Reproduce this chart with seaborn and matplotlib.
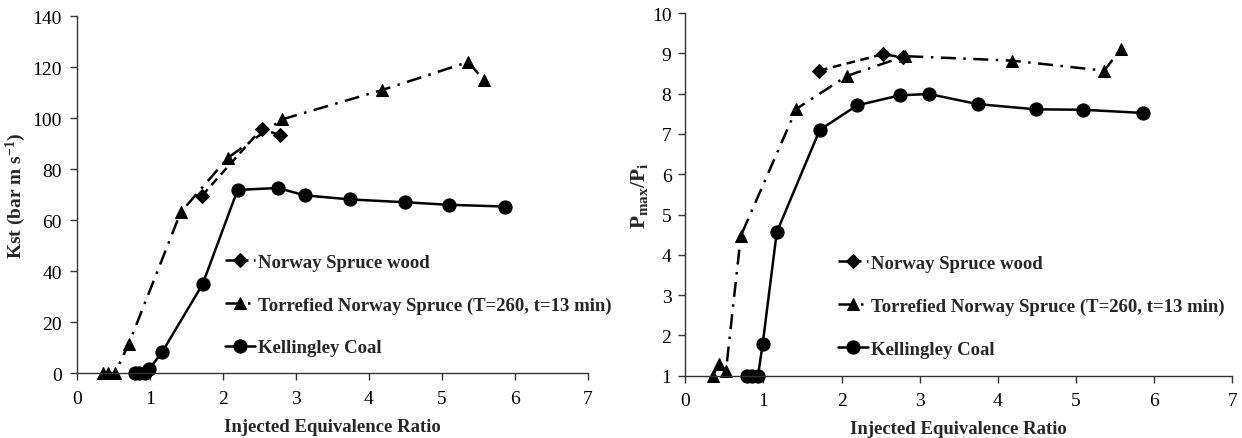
import matplotlib
matplotlib.use("Agg")
import matplotlib.pyplot as plt
import seaborn as sns
import pandas as pd

# ---------------- data ----------------
spruce_x = [1.71, 2.53, 2.78]
spruce_kst = [69.5, 95.8, 93.3]
spruce_p = [8.57, 8.98, 8.90]

torr_x = [0.35, 0.43, 0.52, 0.71, 1.42, 2.07, 2.81, 4.18, 5.36, 5.57]
torr_kst = [0, 0, 0, 11.5, 63, 84.5, 99.5, 111, 122, 115]
torr_p = [1.0, 1.29, 1.12, 4.47, 7.62, 8.44, 8.93, 8.82, 8.57, 9.10]

coal_x = [0.79, 0.85, 0.93, 0.99, 1.17, 1.72, 2.20, 2.75, 3.12, 3.74, 4.49, 5.09, 5.86]
coal_kst = [0, 0, 0, 1.5, 8.4, 34.8, 71.8, 72.6, 69.7, 68.1, 67.0, 66.0, 65.3]
coal_p = [1.0, 1.0, 1.0, 1.79, 4.56, 7.10, 7.71, 7.96, 7.99, 7.74, 7.61, 7.60, 7.52]

labels = ["Norway Spruce wood",
          "Torrefied Norway Spruce (T=260, t=13 min)",
          "Kellingley Coal"]
x_ticks = [0, 1, 2, 3, 4, 5, 6, 7]
kst_ticks = [0, 20, 40, 60, 80, 100, 120, 140]
p_ticks = [1, 2, 3, 4, 5, 6, 7, 8, 9, 10]

# ---------------- style ----------------
sns.set_style("ticks")
plt.rcParams["font.family"] = ["Liberation Serif", "DejaVu Serif"]
plt.rcParams["mathtext.fontset"] = "custom"
plt.rcParams["mathtext.rm"] = "Liberation Serif"
plt.rcParams["mathtext.bf"] = "Liberation Serif:bold"
plt.rcParams["mathtext.it"] = "Liberation Serif:italic"

fig = plt.figure(figsize=(12.42, 4.39), dpi=100)
axL = fig.add_axes([0.062, 0.148, 0.4114, 0.813])
axR = fig.add_axes([0.5518, 0.142, 0.4404, 0.826])

styles = [
    dict(marker="D", markersize=7, linestyle=(0, (3.5, 2.2))),
    dict(marker="^", markersize=9, linestyle=(0, (6, 3, 1, 3))),
    dict(marker="o", markersize=9.5, linestyle="-"),
]


def draw(ax, ys):
    xs = [spruce_x, torr_x, coal_x]
    for x, y, lab, st in zip(xs, ys, labels, styles):
        df = pd.DataFrame({"x": x, "y": y})
        sns.lineplot(data=df, x="x", y="y", ax=ax, color="black",
                     estimator=None, sort=False, linewidth=1.8,
                     markeredgecolor="black", markerfacecolor="black",
                     clip_on=False, label=lab, **st)
    ax.set_xlim(0, 7)
    ax.set_xticks(x_ticks)
    for s in ["top", "right"]:
        ax.spines[s].set_visible(False)
    for s in ["left", "bottom"]:
        ax.spines[s].set_color("#333333")
        ax.spines[s].set_linewidth(1.0)
    ax.tick_params(axis="both", direction="out", length=5, width=1,
                   color="#333333", labelsize=14, labelcolor="black")
    ax.tick_params(axis="x", pad=7)
    ax.set_xlabel("Injected Equivalence Ratio", fontsize=13.5,
                  fontweight="bold", labelpad=8)


legend_kw = dict(loc="upper left", frameon=False,
                 prop={"weight": "bold", "size": 13.5},
                 handlelength=1.6, handletextpad=0.15, labelspacing=1.37,
                 borderpad=0, borderaxespad=0)

draw(axL, [spruce_kst, torr_kst, coal_kst])
axL.set_ylim(0, 140)
axL.set_yticks(kst_ticks)
axL.tick_params(axis="y", pad=6)
axL.set_ylabel("Kst (bar m s$^{\\mathbf{-1}}$)", fontsize=14,
               fontweight="bold", labelpad=3)
axL.legend(bbox_to_anchor=(0.29, 0.335), **legend_kw)

draw(axR, [spruce_p, torr_p, coal_p])
axR.set_ylim(1, 10)
axR.set_yticks(p_ticks)
axR.tick_params(axis="y", pad=5)
axR.set_ylabel("$\\mathbf{P_{max}/P_{i}}$", fontsize=15.5, labelpad=1)
axR.legend(bbox_to_anchor=(0.28, 0.333), **legend_kw)

fig.savefig("out.png", dpi=100)
